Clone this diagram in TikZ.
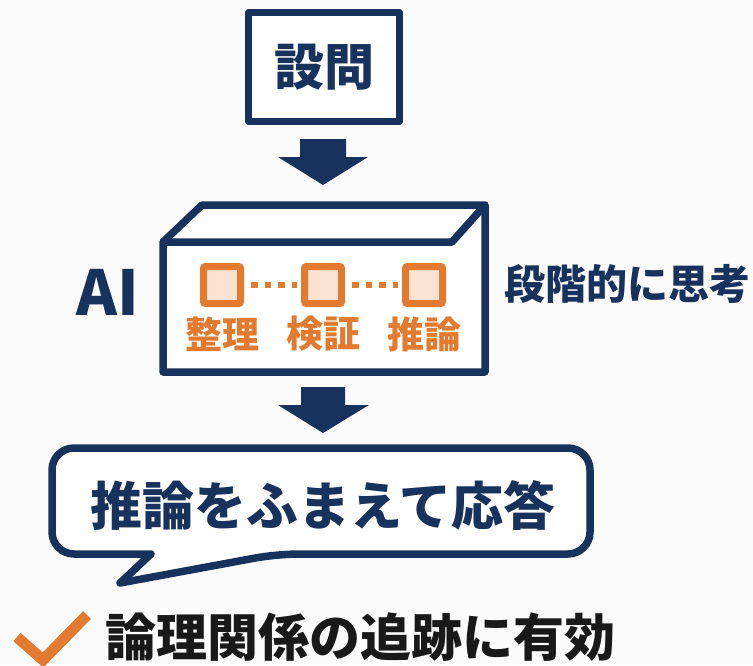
\documentclass[tikz,border=0pt]{standalone}
\usepackage{fontspec}
\newfontfamily\jp{Noto Sans CJK JP}
\definecolor{navy}{HTML}{17325C}
\definecolor{org}{HTML}{E27B30}
\definecolor{peach}{HTML}{FBE2D2}
\definecolor{bg}{HTML}{FBFBFB}
\begin{document}
\begin{tikzpicture}[x=1pt,y=-1pt,
  navyline/.style={draw=navy,line width=7.5pt,line join=round},
  blockarrow/.style={fill=navy},
  stepsq/.style={draw=org,line width=7pt,fill=peach,minimum width=37pt,minimum height=37pt,inner sep=0pt,rounded corners=2pt},
  dotline/.style={draw=org,line width=6.5pt,dash pattern=on 6.5pt off 7pt},
  steplabel/.style={text=org,font=\jp\bfseries\fontsize{37}{40}\selectfont,inner sep=0pt},
  navytext/.style={text=navy,inner sep=0pt},
]
\useasboundingbox[fill=bg] (0,0) rectangle (753,665);

% question box
\node[navyline,fill=white,minimum width=151pt,minimum height=109pt,inner sep=0pt,
  font=\jp\bfseries\fontsize{50}{52}\selectfont,text=navy] (q) at (324,67) {設問};

% arrow 1
\coordinate (a1) at (323,139);
\fill[blockarrow] (a1) ++(-23,0) -- ++(46,0) -- ++(0,18) -- ++(22,0) -- (323,185) -- (278,157) -- (300,157) -- cycle;

% 3D box
\coordinate (fl) at (163,242);
\coordinate (bl) at (202,205);
\coordinate (br) at (485,205);
\coordinate (rb) at (485,372);
\coordinate (lb) at (163,372);
\coordinate (fr) at (452,242);
\fill[white] (fl) -- (bl) -- (br) -- (rb) -- (lb) -- cycle;
\draw[navyline] (fl) -- (bl) -- (br) -- (rb) -- (lb) -- cycle;
\draw[navyline] (fl) -- (fr) -- (br);

% steps
\node[stepsq] (s1) at (222,285) {};
\node[stepsq] (s2) at (323,285) {};
\node[stepsq] (s3) at (424,285) {};
\draw[dotline,shorten <=7pt,shorten >=4pt] (s1.east) -- (s2.west);
\draw[dotline,shorten <=7pt,shorten >=4pt] (s2.east) -- (s3.west);
\node[steplabel] (l1) at (222,334) {整理};
\node[steplabel] (l2) at (323,334) {検証};
\node[steplabel] (l3) at (424,334) {推論};

\node[navytext,font=\jp\bfseries\fontsize{62}{64}\selectfont] (ai) at (108,292) {AI};
\node[navytext,anchor=west,font=\jp\bfseries\fontsize{41}{44}\selectfont] (think) at (504,284) {段階的に思考};

% arrow 2
\coordinate (a2) at (323,387);
\fill[blockarrow] (a2) ++(-22,0) -- ++(44,0) -- ++(0,18) -- ++(24,0) -- (323,433) -- (278,405) -- (301,405) -- cycle;

% speech bubble
\draw[navyline,fill=white,rounded corners=22pt] (151,554) -- (52,554) -- (52,448) -- (590,448) -- (590,554) -- (277,554) [sharp corners] -- (120,583) -- cycle;
\node[navytext,font=\jp\bfseries\fontsize{52}{56}\selectfont] (ans) at (323,505) {推論をふまえて応答};

% check and conclusion
\coordinate (c1) at (17,637);
\coordinate (c2) at (43,660);
\coordinate (c3) at (87,615);
\draw[org,line width=11pt] (c1) -- (c2) -- (c3);
\node[anchor=west,inner sep=0pt,text=black!90,font=\jp\bfseries\fontsize{51}{56}\selectfont] (res) at (105,637) {論理関係の追跡に有効};
\end{tikzpicture}
\end{document}
